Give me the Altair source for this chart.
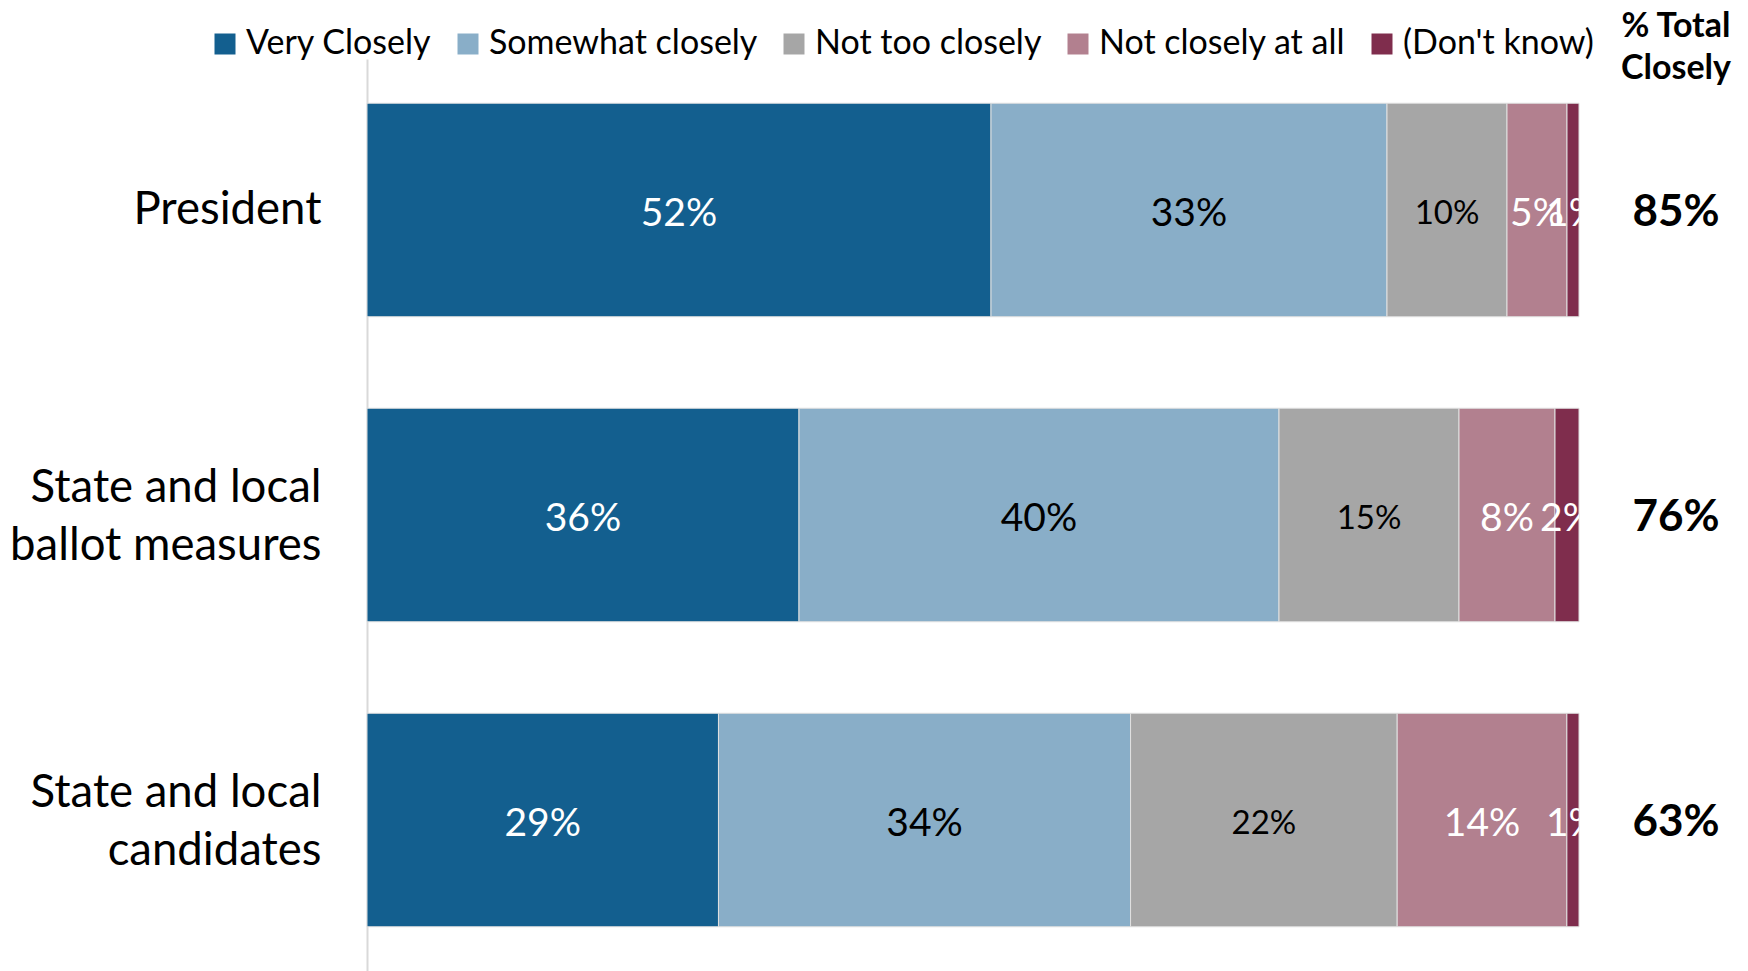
import altair as alt
import pandas as pd

categories = ["President", "State and local|ballot measures", "State and local|candidates"]
responses = ["Very Closely", "Somewhat closely", "Not too closely", "Not closely at all", "(Don't know)"]
very_closely = [52, 36, 29]
somewhat_closely = [33, 40, 34]
not_too_closely = [10, 15, 22]
not_closely_at_all = [5, 8, 14]
dont_know = [1, 2, 1]
total_closely = [85, 76, 63]

colors = ["#135f8f", "#89aec8", "#a6a6a6", "#b2808f", "#7f2d4d"]
FONT = "Lato"
LEFT, TOP = 367, 59
W, H = 1212, 912
RIGHT = 1748 - LEFT - W

series = [very_closely, somewhat_closely, not_too_closely, not_closely_at_all, dont_know]
rows = []
for ci, cat in enumerate(categories):
    for ri, resp in enumerate(responses):
        rows.append({"category": cat, "response": resp, "order": ri, "value": series[ri][ci]})
df = pd.DataFrame(rows)
df_tot = pd.DataFrame({"category": categories, "total": total_closely})

y_enc = alt.Y(
    "category:N",
    sort=categories,
    title=None,
    scale=alt.Scale(paddingInner=0.3, paddingOuter=0.145),
    axis=alt.Axis(
        labelExpr="split(datum.label, '|')",
        labelFont=FONT,
        labelFontSize=45.5,
        labelLineHeight=58,
        labelColor="black",
        labelPadding=46,
        labelOffset={"condition": {"test": "indexof(datum.value, '|') >= 0", "value": -27}, "value": 0},
        ticks=False,
        domainColor="#d9d9d9",
        domainWidth=2,
        grid=False,
        labelLimit=400,
    ),
)

base = (
    alt.Chart(df)
    .transform_joinaggregate(total="sum(value)", groupby=["category"])
    .transform_window(
        cum="sum(value)", sort=[alt.SortField("order")], groupby=["category"], frame=[None, 0]
    )
    .transform_calculate(
        x0="(datum.cum - datum.value) / datum.total",
        x1="datum.cum / datum.total",
        xm="(datum.cum - datum.value / 2) / datum.total",
        label="datum.value + '%'",
        tcol="(datum.response == 'Somewhat closely' || datum.response == 'Not too closely') ? 'black' : 'white'",
        fs="datum.response == 'Not too closely' ? 33 : 39",
    )
)

x_scale = alt.Scale(domain=[0, 1], nice=False, zero=True)

bars = base.mark_bar(stroke="#e0e0e0", strokeWidth=1).encode(
    x=alt.X("x0:Q", scale=x_scale, axis=None),
    x2="x1:Q",
    y=y_enc,
    color=alt.Color(
        "response:N",
        sort=responses,
        scale=alt.Scale(domain=responses, range=colors),
        legend=alt.Legend(
            title=None,
            orient="none",
            direction="horizontal",
            legendX=-159,
            legendY=-32,
            symbolType="square",
            symbolSize=441,
            symbolStrokeWidth=0,
            symbolOpacity=1,
            labelFont=FONT,
            labelFontSize=34,
            labelColor="black",
            labelOffset=4,
            columnPadding=19,
            labelLimit=400,
        ),
    ),
)

labels = base.mark_text(font=FONT, baseline="middle", align="center", clip=True, dy=4).encode(
    x=alt.X("xm:Q", scale=x_scale, axis=None),
    y=y_enc,
    text="label:N",
    color=alt.Color("tcol:N", scale=None),
    size=alt.Size("fs:Q", scale=None),
)

totals = (
    alt.Chart(df_tot)
    .transform_calculate(tlabel="datum.total + '%'")
    .mark_text(font=FONT, fontWeight="bold", fontSize=44, color="black", align="center",
               baseline="middle", dy=3)
    .encode(x=alt.value(W + 97), y=y_enc, text="tlabel:N")
)

header = (
    alt.Chart(pd.DataFrame({"t": ["% Total|Closely"]}))
    .mark_text(font=FONT, fontWeight="bold", fontSize=34, color="black", align="center",
               baseline="middle", lineBreak="|", lineHeight=42)
    .encode(x=alt.value(W + 97), y=alt.value(27 - TOP), text="t:N")
)

chart = (
    alt.layer(bars, labels, totals, header)
    .properties(
        width=W,
        height=H,
        background="white",
        autosize=alt.AutoSizeParams(type="none"),
        padding={"left": LEFT, "top": TOP, "right": RIGHT, "bottom": 0},
    )
    .configure_view(stroke="transparent", strokeWidth=0)
)

chart.save("out.html", embed_options={"renderer": "svg", "actions": False})
